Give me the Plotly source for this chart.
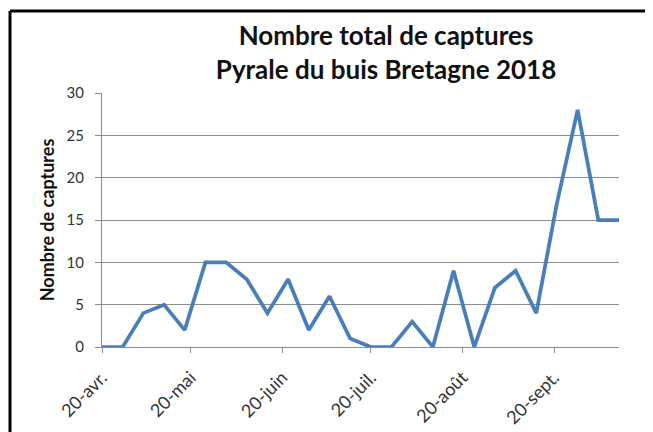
import plotly.graph_objects as go
import pandas as pd

start_date = "2018-04-20"
n_weeks = 26
captures = [0, 0, 4, 5, 2, 10, 10, 8, 4, 8, 2, 6, 1, 0, 0, 3, 0, 9, 0, 7, 9, 4, 17, 28, 15, 15]
tick_dates = ["2018-04-20", "2018-05-20", "2018-06-20", "2018-07-20", "2018-08-20", "2018-09-20"]
tick_labels = ["20-avr.", "20-mai", "20-juin", "20-juil.", "20-août", "20-sept."]
y_ticks = [0, 5, 10, 15, 20, 25, 30]
y_grid = [5, 10, 15, 20, 25]

dates = pd.date_range(start_date, periods=n_weeks, freq="7D")

# page body has an 8px margin; figure sized to fit the 653x432 window
W, H = 645, 424
L, R, T, B = 94, 34, 85, 85

fig = go.Figure()
fig.add_trace(go.Scatter(x=dates, y=captures, mode="lines",
                         line=dict(color="#4A7EBB", width=3.75), showlegend=False))

fig.update_layout(
    template="none",
    width=W, height=H,
    margin=dict(l=L, r=R, t=T, b=B, pad=0),
    paper_bgcolor="white", plot_bgcolor="white",
    font=dict(family="Lato", color="#222"),
    title=dict(text="<b>Nombre total de captures<br>Pyrale du buis Bretagne 2018</b>",
               x=378 / W, xanchor="center", y=1 - 37 / H, yanchor="middle",
               font=dict(family="Lato", size=26, color="#111")),
    xaxis=dict(type="date", range=[dates[0], dates[-1]], automargin=False,
               tickvals=tick_dates, ticktext=tick_labels, tickangle=-45,
               tickfont=dict(family="Lato", size=18, color="#333"),
               ticklabelstandoff=7,
               showgrid=False, zeroline=False, showline=True, linecolor="#8c8c8c", linewidth=1,
               ticks="outside", ticklen=5, tickcolor="#8c8c8c"),
    yaxis=dict(range=[0, 30], tickvals=y_ticks, automargin=False,
               tickfont=dict(family="Lato", size=15, color="#333"),
               ticklabelstandoff=8,
               showgrid=False, zeroline=False, showline=True, linecolor="#8c8c8c", linewidth=1,
               ticks="outside", ticklen=6, tickcolor="#8c8c8c",
               minor=dict(tickvals=y_grid, showgrid=True, gridcolor="#8c8c8c", gridwidth=1, ticks=""),
               title=dict(text="<b>Nombre de captures</b>", standoff=7,
                          font=dict(family="Lato", size=18, color="#111"))),
)

pw, ph = W - L - R, H - T - B
def px_x(x):
    return (x - L) / pw
def px_y(y):
    return (H - B - y) / ph

# outer black frame (top and left edges visible)
fig.add_shape(type="line", xref="paper", yref="paper", x0=px_x(2), x1=px_x(660), y0=px_y(3), y1=px_y(3),
              line=dict(color="black", width=3))
fig.add_shape(type="line", xref="paper", yref="paper", x0=px_x(2), x1=px_x(2), y0=px_y(3), y1=px_y(440),
              line=dict(color="black", width=3))

fig.write_html("out.html")
